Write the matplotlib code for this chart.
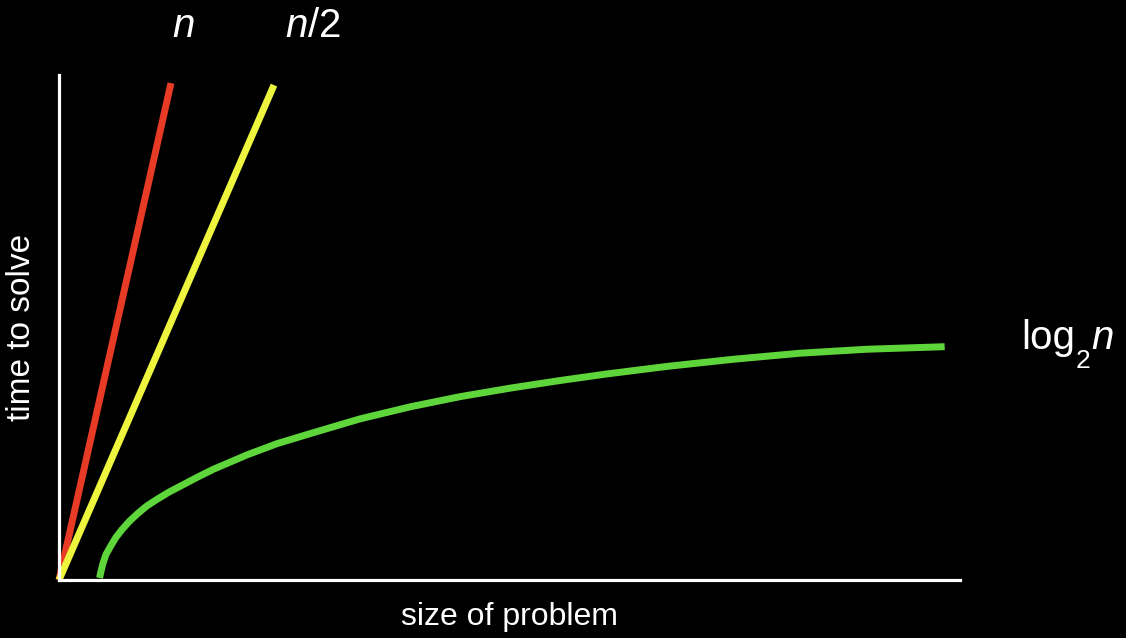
import matplotlib
matplotlib.use("Agg")
import matplotlib.pyplot as plt
from matplotlib.transforms import offset_copy

# ---- data (axes span 0..100 in both directions) ----
n_x = [0.0, 12.43]
n_y = [0.0, 98.4]

half_x = [0.0, 23.86]
half_y = [0.0, 98.0]

log_x = [4.5, 4.7, 4.9, 5.2, 5.7, 6.3, 7.0, 7.8, 8.7, 9.7, 10.9, 12.2, 13.7,
         15.3, 17.1, 20.9, 24.2, 27.9, 33.4, 39.0, 44.5, 50.1, 55.6, 60.8,
         67.5, 74.8, 82.2, 89.7, 98.3]
log_y = [0.4, 2.0, 3.4, 5.0, 6.6, 8.4, 10.0, 11.6, 13.1, 14.6, 16.0, 17.4, 18.8,
         20.3, 21.9, 24.8, 27.0, 29.0, 31.9, 34.3, 36.3, 38.0, 39.5, 40.8,
         42.3, 43.7, 44.9, 45.7, 46.2]

label_n = r"$n$"
label_half = r"$n/2$"
label_log_main = "log"
label_log_sub = "2"
label_log_var = "n"
xlabel = "size of problem"
ylabel = "time to solve"

RED = "#e83b25"
YELLOW = "#eef53e"
GREEN = "#5ed53a"

plt.rcParams["font.family"] = ["Liberation Sans", "DejaVu Sans"]
plt.rcParams["mathtext.fontset"] = "custom"
plt.rcParams["mathtext.rm"] = "Liberation Sans"
plt.rcParams["mathtext.it"] = "Liberation Sans:italic"

W, H = 1126, 638
fig = plt.figure(figsize=(W / 100, H / 100), dpi=100, facecolor="black")
ax = fig.add_axes([59 / W, 58 / H, 901 / W, 505 / H], facecolor="black")
ax.set_xlim(0, 100)
ax.set_ylim(0, 100)

lw = 5
ax.plot(n_x, n_y, color=RED, lw=lw, solid_capstyle="butt", clip_on=False)
ax.plot(half_x, half_y, color=YELLOW, lw=lw, solid_capstyle="butt", clip_on=False)
ax.plot(log_x, log_y, color=GREEN, lw=lw, solid_capstyle="butt",
        solid_joinstyle="round", clip_on=False)

for s in ["top", "right"]:
    ax.spines[s].set_visible(False)
for s in ["left", "bottom"]:
    ax.spines[s].set_color("white")
    ax.spines[s].set_linewidth(2.3)
ax.set_xticks([])
ax.set_yticks([])

ax.text(13.8, 107.5, label_n, color="white", fontsize=29,
        ha="center", va="baseline", clip_on=False)
ax.text(28.2, 107.5, label_half, color="white", fontsize=29,
        ha="center", va="baseline", clip_on=False)

# log_2 n label built from pieces so the subscript matches the reference
renderer = fig.canvas.get_renderer()
t1 = ax.text(106.8, 45.7, label_log_main, color="white", fontsize=29,
             ha="left", va="baseline", clip_on=False)
bb1 = t1.get_window_extent(renderer)
sub_tr = offset_copy(ax.transData, fig=fig, x=bb1.width + 0.5, y=-19,
                     units="dots")
t2 = ax.text(106.8, 45.7, label_log_sub, color="white", fontsize=19,
             ha="left", va="baseline", transform=sub_tr, clip_on=False)
bb2 = t2.get_window_extent(renderer)
var_tr = offset_copy(ax.transData, fig=fig, x=bb1.width + bb2.width + 1,
                     y=0, units="dots")
ax.text(106.8, 45.7, label_log_var, color="white", fontsize=29,
        style="italic", ha="left", va="baseline", transform=var_tr,
        clip_on=False)

ax.text(0.5, -0.089, xlabel, color="white", fontsize=23, ha="center",
        va="baseline", transform=ax.transAxes)
ax.text(-0.042, 0.5, ylabel, color="white", fontsize=24, ha="center",
        va="center", rotation=90, transform=ax.transAxes)

fig.savefig("out.png", dpi=100, facecolor="black")
